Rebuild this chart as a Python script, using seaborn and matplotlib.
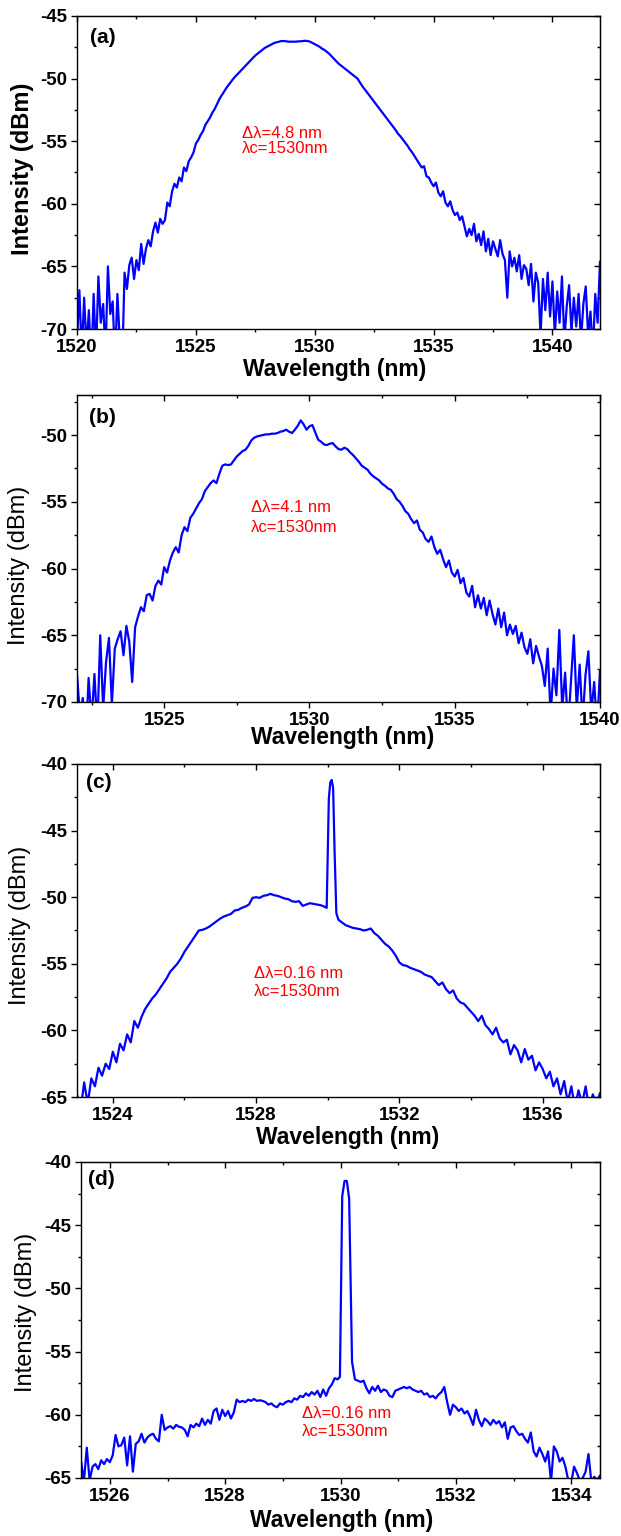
import numpy as np
import matplotlib
matplotlib.use("Agg")
import matplotlib.pyplot as plt
from matplotlib.ticker import MultipleLocator, FormatStrFormatter
import seaborn as sns

# ---------------- data ----------------
# (a) broadband ASE spectrum, 1520-1542 nm, 0.1 nm steps
wl_a = np.round(np.linspace(1520.0, 1542.0, 221), 2)
pw_a = [
    -71, -66.9, -72, -67.5, -71.5, -68.5, -73, -67.2, -72, -65.8,
    -69.5, -68, -72, -65, -68.8, -67.8, -72.5, -67.2, -71, -73,
    -65.5, -66.8, -64.9, -64.3, -66.0, -64.5, -65.3, -63.2, -64.8, -63.6,
    -62.9, -63.4, -62.2, -61.5, -62.3, -61.2, -61.6, -61.3, -59.9, -60.2,
    -59.0, -58.4, -58.7, -57.9, -58.2, -57.1, -57.4, -56.6, -56.3, -55.9,
    -55.2, -54.9, -54.5, -54.2, -53.7, -53.4, -53.1, -52.7, -52.4, -52.0,
    -51.6, -51.3, -51.0, -50.7, -50.45, -50.2, -49.95, -49.75, -49.55, -49.35,
    -49.15, -48.95, -48.75, -48.55, -48.35, -48.15, -48.0, -47.85, -47.7, -47.55,
    -47.45, -47.35, -47.25, -47.15, -47.1, -47.05, -47.0, -47.0, -47.02, -47.05,
    -47.05, -47.05, -47.05, -47.03, -47.02, -47.0, -46.98, -47.0, -47.05, -47.15,
    -47.25, -47.35, -47.45, -47.6, -47.7, -47.85, -48.0, -48.2, -48.4, -48.6,
    -48.8, -48.95, -49.1, -49.25, -49.4, -49.55, -49.7, -49.85, -50.0, -50.3,
    -50.6, -50.85, -51.1, -51.35, -51.6, -51.85, -52.1, -52.35, -52.6, -52.85,
    -53.1, -53.35, -53.6, -53.85, -54.1, -54.4, -54.6, -54.85, -55.1, -55.35,
    -55.65, -55.9, -56.2, -56.5, -56.8, -57.1, -57.0, -57.8, -57.9, -58.3,
    -58.6, -58.3, -59.1, -59.4, -59.0, -59.9, -60.2, -59.8, -60.5, -60.9,
    -60.7, -61.3, -61.0, -61.8, -62.6, -62.0, -62.5, -61.6, -63.0, -62.4,
    -63.3, -62.2, -63.8, -62.8, -64.1, -63.0, -63.6, -64.2, -62.9, -64.0,
    -64.5, -67.5, -63.8, -65.0, -64.3, -65.4, -64.1, -66.0, -64.9, -65.2,
    -66.5, -64.8, -67.8, -65.5, -66.3, -70.5, -66.0, -68.5, -65.5, -69.0,
    -66.2, -70.5, -67.0, -69.5, -65.8, -71.0, -68.2, -66.5, -70.2, -67.5,
    -69.8, -67.2, -71.0, -68.0, -66.6, -70.5, -68.6, -72.0, -67.2, -69.5,
    -64.6,
]

# (b) spectrum, 1522-1540 nm, 0.1 nm steps
wl_b = np.round(np.linspace(1522.0, 1540.0, 181), 2)
pw_b = [
    -67.9, -71, -69.7, -73, -68.2, -71.5, -67.9, -72, -65.0, -70.5,
    -67.0, -65.2, -70.2, -66.0, -65.3, -64.7, -66.5, -64.3, -65.5, -68.5,
    -64.4, -63.6, -62.9, -63.2, -62.0, -61.9, -62.4, -61.3, -60.9, -61.2,
    -59.9, -60.3, -59.4, -58.8, -58.4, -58.8, -57.5, -56.9, -57.2, -56.2,
    -55.9, -55.5, -55.1, -54.8, -54.2, -53.9, -53.6, -53.4, -53.6, -52.9,
    -52.3, -52.2, -52.25, -52.2, -51.9, -51.6, -51.4, -51.2, -51.1, -50.8,
    -50.4, -50.2, -50.1, -50.05, -50.0, -49.95, -49.95, -49.9, -49.9, -49.85,
    -49.75, -49.7, -49.6, -49.75, -49.85, -49.6, -49.3, -48.9, -49.2, -49.6,
    -49.35, -49.25, -49.8, -50.35, -50.5, -50.7, -50.75, -50.65, -50.6, -50.85,
    -51.05, -51.1, -50.95, -51.05, -51.3, -51.5, -51.75, -52.0, -52.3, -52.45,
    -52.6, -52.9, -53.1, -53.25, -53.4, -53.65, -53.8, -54.0, -54.1, -54.4,
    -54.8, -55.0, -55.3, -55.7, -55.9, -56.3, -56.6, -56.4, -57.1, -57.3,
    -57.8, -58.0, -57.6, -58.4, -58.9, -58.6, -59.3, -59.9, -59.4, -60.3,
    -60.6, -60.1, -61.1, -60.7, -61.8, -62.1, -61.3, -62.9, -62.0, -63.0,
    -62.2, -63.5, -62.4, -63.4, -64.2, -63.0, -64.4, -63.3, -65.0, -64.2,
    -64.9, -64.3, -65.6, -64.8, -65.9, -66.4, -65.3, -67.1, -65.8, -66.6,
    -67.3, -68.8, -66.0, -71.0, -67.5, -69.5, -64.6, -70.5, -67.8, -72.0,
    -68.5, -65.0, -70.5, -67.2, -71.5, -68.0, -66.2, -70.8, -68.5, -72.0,
    -67.6,
]

# (c) spectrum with lasing line, 1523-1537.6 nm
wl_c_left = np.round(np.linspace(1523.0, 1529.9, 70), 2)
wl_c_peak = [1529.97, 1530.03, 1530.07, 1530.11, 1530.15, 1530.19, 1530.24]
wl_c_right = np.round(np.linspace(1530.3, 1537.6, 74), 2)
pw_c_left = [
    -64.8, -66.0, -63.9, -65.5, -63.6, -64.2, -62.8, -63.4, -62.5, -62.9,
    -61.6, -62.4, -61.0, -61.5, -60.3, -60.9, -59.3, -59.8, -59.0, -58.4,
    -58.0, -57.6, -57.3, -56.9, -56.5, -56.1, -55.6, -55.3, -55.0, -54.6,
    -54.1, -53.7, -53.3, -52.9, -52.5, -52.45, -52.35, -52.2, -52.0, -51.8,
    -51.6, -51.45, -51.35, -51.25, -51.0, -50.95, -50.8, -50.7, -50.55, -50.05,
    -50.0, -50.05, -49.9, -49.85, -49.75, -49.85, -49.9, -50.0, -50.1, -50.15,
    -50.3, -50.35, -50.3, -50.65, -50.55, -50.45, -50.5, -50.55, -50.6, -50.7,
]
pw_c_peak = [-50.8, -42.6, -41.4, -41.2, -41.8, -46.5, -51.2]
pw_c_right = [
    -51.7, -51.9, -52.1, -52.2, -52.3, -52.35, -52.4,
    -52.5, -52.45, -52.35, -52.7, -52.9, -53.2, -53.5, -53.7, -54.0, -54.4,
    -54.9, -55.1, -55.15, -55.3, -55.4, -55.5, -55.6, -55.8, -55.9, -56.0,
    -56.3, -56.6, -56.4, -56.9, -57.2, -57.0, -57.6, -57.9, -58.0, -58.3,
    -58.6, -58.9, -59.3, -58.9, -59.6, -59.9, -60.3, -59.8, -60.6, -60.9,
    -60.7, -61.8, -61.1, -61.5, -62.4, -61.4, -62.2, -61.9, -63.0, -62.4,
    -62.9, -63.6, -63.1, -64.2, -63.6, -64.8, -63.8, -65.4, -64.2, -65.8,
    -64.5, -65.5, -64.2, -66.0, -64.8, -65.6, -64.7,
]

# (d) spectrum with lasing line, 1525.5-1534.5 nm
wl_d_left = np.round(np.linspace(1525.5, 1529.95, 90), 2)
wl_d_peak = [1529.99, 1530.03, 1530.07, 1530.11, 1530.15, 1530.2, 1530.25]
wl_d_right = np.round(np.linspace(1530.3, 1534.5, 85), 2)
pw_d_left = [
    -63.6, -65.3, -62.6, -65.2, -64.1, -63.9, -64.3, -63.6, -63.9, -63.5,
    -63.75, -63.2, -61.6, -62.5, -62.4, -61.8, -64.0, -61.7, -64.5, -62.3,
    -62.1, -61.5, -62.2, -61.8, -61.6, -61.5, -61.9, -62.1, -60.0, -61.2,
    -61.0, -60.9, -61.1, -60.8, -60.95, -61.0, -61.2, -61.7, -60.8, -61.0,
    -60.7, -60.9, -60.3, -60.8, -60.4, -60.7, -59.7, -59.5, -60.4, -59.6,
    -60.1, -59.7, -60.3, -59.8, -58.8, -59.0, -58.9, -59.0, -58.8, -58.9,
    -58.75, -58.9, -58.85, -58.9, -59.0, -59.2, -59.1, -59.3, -59.4, -59.1,
    -59.2, -59.0, -58.9, -59.0, -58.7, -58.8, -58.5, -58.6, -58.3, -58.5,
    -58.2, -58.4, -58.1, -58.6, -58.0, -58.5, -57.9, -57.6, -57.1, -57.2,
]
pw_d_peak = [-57.0, -42.7, -41.5, -41.5, -42.9, -55.8, -57.2]
pw_d_right = [
    -57.3, -57.4, -57.3, -57.9, -58.3, -57.8, -58.1, -57.7, -58.2, -58.0,
    -58.1, -58.5, -58.6, -58.1, -58.0, -57.9, -57.8, -57.9, -57.8, -58.0,
    -58.1, -58.2, -58.1, -58.4, -58.3, -58.6, -58.5, -58.7, -58.4, -58.2,
    -57.8, -59.0, -60.0, -59.2, -59.4, -59.7, -59.5, -59.9, -59.7, -60.2,
    -60.8, -59.6, -60.4, -60.9, -60.3, -60.5, -60.8, -60.4, -60.7, -60.5,
    -61.0, -60.6, -61.9, -61.0, -60.9, -61.3, -61.6, -61.5, -61.9, -62.2,
    -61.4, -62.9, -63.3, -62.6, -63.1, -63.7, -62.9, -65.3, -62.5, -62.9,
    -63.7, -63.4, -64.1, -65.2, -65.4, -64.1, -64.6, -65.2, -65.0, -64.5,
    -63.1, -65.3, -64.9, -65.2, -64.8,
]

wl_c = np.concatenate([wl_c_left, wl_c_peak, wl_c_right])
pw_c = np.concatenate([pw_c_left, pw_c_peak, pw_c_right])
wl_d = np.concatenate([wl_d_left, wl_d_peak, wl_d_right])
pw_d = np.concatenate([pw_d_left, pw_d_peak, pw_d_right])

panel_labels = ["(a)", "(b)", "(c)", "(d)"]
notes_line1 = ["Δλ=4.8 nm", "Δλ=4.1 nm", "Δλ=0.16 nm", "Δλ=0.16 nm"]
notes_line2 = ["λc=1530nm", "λc=1530nm", "λc=1530nm", "λc=1530nm"]
x_label = "Wavelength (nm)"
y_label = "Intensity (dBm)"

# ---------------- styling / layout ----------------
sns.set_style("ticks")
plt.rcParams["font.family"] = ["Liberation Sans", "DejaVu Sans"]
plt.rcParams["axes.unicode_minus"] = False
for k in ["text.color", "axes.labelcolor", "xtick.color", "ytick.color", "axes.edgecolor"]:
    plt.rcParams[k] = "black"

W, H = 621, 1536
fig = plt.figure(figsize=(W / 100, H / 100), dpi=100)

def rect(l, r, t, b):
    return [l / W, 1 - b / H, (r - l) / W, (b - t) / H]

panels = [
    dict(wl=wl_a, pw=pw_a, rect=rect(77, 600, 16, 329), xlim=(1520, 1542), ylim=(-70, -45),
         xmaj=5, xmin=2.5, ymaj=5, ymin=2.5, note=(1526.95, -54.35, -55.55),
         ylw="bold", yl=(-0.105, 0.513), xl=(0.493, -0.128), pl=(0.025, 0.962)),
    dict(wl=wl_b, pw=pw_b, rect=rect(77, 600, 395, 702), xlim=(1522, 1540), ylim=(-70, -47),
         xmaj=5, xmin=2.5, ymaj=5, ymin=2.5, note=(1528.0, -55.45, -56.9),
         ylw="normal", yl=(-0.110, 0.445), xl=(0.507, -0.117), pl=(0.022, 0.958)),
    dict(wl=wl_c, pw=pw_c, rect=rect(77, 600, 764, 1097), xlim=(1523, 1537.6), ylim=(-65, -40),
         xmaj=4, xmin=2, ymaj=5, ymin=2.5, note=(1527.95, -55.7, -57.1),
         ylw="normal", yl=(-0.109, 0.514), xl=(0.518, -0.123), pl=(0.017, 0.973)),
    dict(wl=wl_d, pw=pw_d, rect=rect(81, 600, 1162, 1478), xlim=(1525.5, 1534.5), ylim=(-65, -40),
         xmaj=2, xmin=1, ymaj=5, ymin=2.5, note=(1529.33, -59.9, -61.3),
         ylw="normal", yl=(-0.106, 0.524), xl=(0.503, -0.133), pl=(0.013, 0.975)),
]

for i, p in enumerate(panels):
    ax = fig.add_axes(p["rect"])
    sns.lineplot(x=p["wl"], y=p["pw"], ax=ax, color="#0000ff", linewidth=1.6,
                 estimator=None, sort=False)
    ax.set_xlim(*p["xlim"])
    ax.set_ylim(*p["ylim"])
    ax.xaxis.set_major_locator(MultipleLocator(p["xmaj"]))
    ax.xaxis.set_minor_locator(MultipleLocator(p["xmin"]))
    ax.yaxis.set_major_locator(MultipleLocator(p["ymaj"]))
    ax.yaxis.set_minor_locator(MultipleLocator(p["ymin"]))
    ax.xaxis.set_major_formatter(FormatStrFormatter("%d"))
    ax.yaxis.set_major_formatter(FormatStrFormatter("%d"))
    ax.tick_params(which="major", direction="out", length=4, width=1.0,
                   labelsize=13.5, pad=3, colors="black")
    ax.tick_params(which="minor", direction="out", length=2.5, width=1.0, colors="black")
    for lab in ax.get_xticklabels() + ax.get_yticklabels():
        lab.set_fontweight("bold")
    for s in ax.spines.values():
        s.set_visible(True)
        s.set_linewidth(1.0)
        s.set_color("black")

    # inward ticks on top and right
    secx = ax.secondary_xaxis("top")
    secx.xaxis.set_major_locator(MultipleLocator(p["xmaj"]))
    secx.xaxis.set_minor_locator(MultipleLocator(p["xmin"]))
    secx.tick_params(which="major", direction="in", length=4, width=1.0, labeltop=False)
    secx.tick_params(which="minor", direction="in", length=2.5, width=1.0)
    secy = ax.secondary_yaxis("right")
    secy.yaxis.set_major_locator(MultipleLocator(p["ymaj"]))
    secy.yaxis.set_minor_locator(MultipleLocator(p["ymin"]))
    secy.tick_params(which="major", direction="in", length=4, width=1.0, labelright=False)
    secy.tick_params(which="minor", direction="in", length=2.5, width=1.0)

    ax.set_xlabel(x_label, fontsize=16.5, fontweight="bold", va="center", color="black")
    ax.xaxis.set_label_coords(*p["xl"])
    ax.set_ylabel(y_label, fontsize=17, fontweight=p["ylw"], va="center", color="black")
    ax.yaxis.set_label_coords(*p["yl"])

    ax.text(p["pl"][0], p["pl"][1], panel_labels[i], transform=ax.transAxes,
            fontsize=15, fontweight="bold", ha="left", va="top", color="black")
    nx, ny1, ny2 = p["note"]
    ax.text(nx, ny1, notes_line1[i], color="red", fontsize=12, ha="left", va="center")
    ax.text(nx, ny2, notes_line2[i], color="red", fontsize=12, ha="left", va="center")

fig.savefig("out.png", dpi=100)
